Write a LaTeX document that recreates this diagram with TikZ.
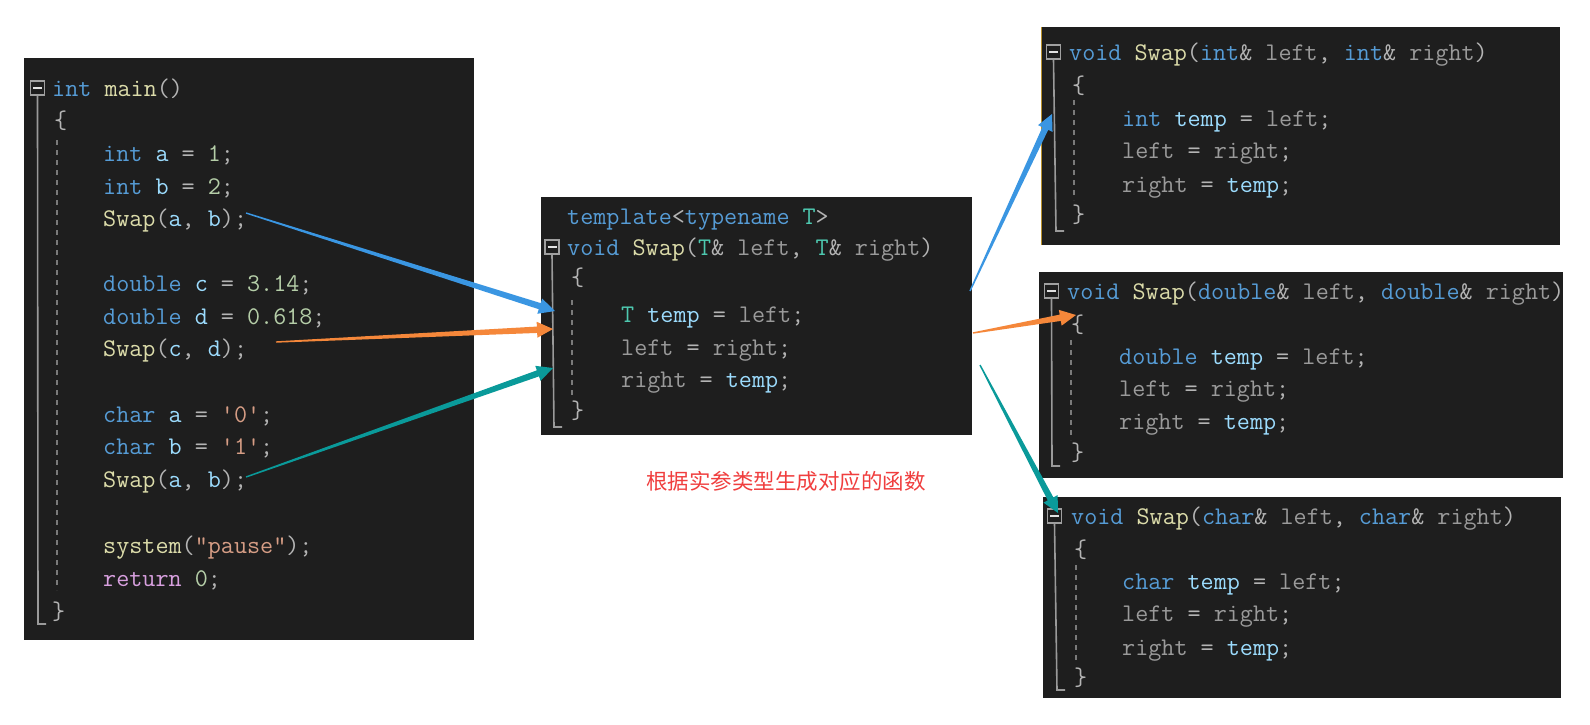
\documentclass[tikz,border=0pt]{standalone}
\usepackage{fontspec}
\newfontfamily\cjk{Noto Sans CJK SC}
\usetikzlibrary{calc}
\definecolor{bg}{HTML}{1E1E1E}
\definecolor{pun}{HTML}{B4B4B4}
\definecolor{kw}{HTML}{569CD6}
\definecolor{fn}{HTML}{DCDCAA}
\definecolor{vr}{HTML}{9CDCFE}
\definecolor{nm}{HTML}{B5CEA8}
\definecolor{st}{HTML}{D69D85}
\definecolor{rt}{HTML}{D8A0DF}
\definecolor{pr}{HTML}{9A9A9A}
\definecolor{ty}{HTML}{4EC9B0}
\definecolor{foldc}{HTML}{A0A0A0}
\definecolor{guidec}{HTML}{9A9A9A}
\definecolor{ablue}{HTML}{3A96E2}
\definecolor{aorange}{HTML}{F5873A}
\definecolor{ateal}{HTML}{0A9A9A}
\definecolor{redt}{HTML}{F03E3E}
\definecolor{gold}{HTML}{B8902A}
\newcommand\codefont{\ttfamily\fontsize{25.4}{30}\selectfont}
\newcommand\ckw[1]{\textcolor{kw}{#1}}
\newcommand\cfn[1]{\textcolor{fn}{#1}}
\newcommand\cvr[1]{\textcolor{vr}{#1}}
\newcommand\cnm[1]{\textcolor{nm}{#1}}
\newcommand\cst[1]{\textcolor{st}{#1}}
\newcommand\crt[1]{\textcolor{rt}{#1}}
\newcommand\cpr[1]{\textcolor{pr}{#1}}
\newcommand\cty[1]{\textcolor{ty}{#1}}
\tikzset{
  code/.style={anchor=base west, inner sep=0pt, text=pun, font=\codefont},
  fold/.style={draw=foldc, line width=1.6pt, minimum size=14pt, inner sep=0pt, fill=bg},
  guide/.style={draw=guidec, line width=1.6pt},
  dguide/.style={draw=guidec!80!black, line width=1.3pt, dash pattern=on 5pt off 5pt},
  panel/.style={fill=bg},
}
% code line: name, x, center y, content
\newcommand\cl[4]{\node[code] (#1) at (#2,#3+8) {#4};}
% fold box: name, x, y
\newcommand\fb[3]{\node[fold] (#1) at (#2,#3) {};
  \draw[white!88!black, line width=2.2pt] ($(#1.center)+(-4.5,0)$) -- ($(#1.center)+(4.5,0)$);}
% tapered arrow: start, end, colour
\newcommand\taper[3]{%
  \coordinate (#1#2b) at ($(#2)!16pt!(#1)$);
  \fill[#3] ($(#1)!0.7pt!90:(#2)$) -- ($(#1#2b)!3.2pt!-90:(#1)$) -- ($(#1#2b)!8pt!-90:(#1)$) -- (#2)
    -- ($(#1#2b)!8pt!90:(#1)$) -- ($(#1#2b)!3.2pt!90:(#1)$) -- ($(#1)!0.7pt!-90:(#2)$) -- cycle;}
\begin{document}
\begin{tikzpicture}[x=1pt,y=-1pt]
\useasboundingbox[fill=white] (0,0) rectangle (1590,724);
% ---------- panels ----------
\path[panel] (24,58) rectangle (474,640);
\path[panel] (541,197) rectangle (972,435);
\path[panel] (1041,27) rectangle (1560,245);
\draw[gold, line width=1.2pt] (1041.6,27) -- (1041.6,245);
\path[panel] (1039,272) rectangle (1563,478);
\path[panel] (1043,497) rectangle (1561,698);
% ---------- left panel: main ----------
\fb{fm}{37.5}{88}
\draw[guide] (fm.south) -- (38,624) -- (46,624);
\draw[dguide] (57,140) -- (57,590);
\cl{m1}{52}{88}{\ckw{int} \cfn{main}()}
\cl{m2}{54}{120}{\{}
\cl{m3}{103}{153}{\ckw{int} \cvr{a} = \cnm{1};}
\cl{m4}{103}{186}{\ckw{int} \cvr{b} = \cnm{2};}
\cl{m5}{103}{218}{\cfn{Swap}(\cvr{a}, \cvr{b});}
\cl{m7}{103}{283}{\ckw{double} \cvr{c} = \cnm{3.14};}
\cl{m8}{103}{316}{\ckw{double} \cvr{d} = \cnm{0.618};}
\cl{m9}{103}{348}{\cfn{Swap}(\cvr{c}, \cvr{d});}
\cl{m11}{103}{414}{\ckw{char} \cvr{a} = \cst{'0'};}
\cl{m12}{103}{446}{\ckw{char} \cvr{b} = \cst{'1'};}
\cl{m13}{103}{479}{\cfn{Swap}(\cvr{a}, \cvr{b});}
\cl{m15}{103}{545}{\cfn{system}(\cst{"pause"});}
\cl{m16}{103}{578}{\crt{return} \cnm{0};}
\cl{m17}{52}{611}{\}}
% ---------- middle panel: template ----------
\fb{ft}{552}{247}
\draw[guide] (ft.south) -- (554,427) -- (562,427);
\draw[dguide] (572,300) -- (572,395);
\cl{t0}{567}{216}{\ckw{template}<\ckw{typename} \cty{T}>}
\cl{t1}{567}{247}{\ckw{void} \cfn{Swap}(\cty{T}\& \cpr{left}, \cty{T}\& \cpr{right})}
\cl{t2}{571}{277}{\{}
\cl{t3}{621}{314}{\cty{T} \cvr{temp} = \cpr{left};}
\cl{t4}{621}{347}{\cpr{left} = \cpr{right};}
\cl{t5}{621}{379}{\cpr{right} = \cvr{temp};}
\cl{t6}{571}{410}{\}}
% ---------- top right: int ----------
\fb{fi}{1053.5}{52}
\draw[guide] (fi.south) -- (1056,231) -- (1064,231);
\draw[dguide] (1074,100) -- (1074,200);
\cl{i1}{1069}{52}{\ckw{void} \cfn{Swap}(\ckw{int}\& \cpr{left}, \ckw{int}\& \cpr{right})}
\cl{i2}{1072}{85}{\{}
\cl{i3}{1122}{118}{\ckw{int} \cvr{temp} = \cpr{left};}
\cl{i4}{1122}{150}{\cpr{left} = \cpr{right};}
\cl{i5}{1122}{184}{\cpr{right} = \cvr{temp};}
\cl{i6}{1072}{214}{\}}
% ---------- middle right: double ----------
\begin{scope}
\clip (1039,272) rectangle (1563,478);
\fb{fd}{1051.5}{291}
\draw[guide] (fd.south) -- (1052,466) -- (1060,466);
\draw[dguide] (1071,340) -- (1071,440);
\cl{d1}{1067}{291}{\ckw{void} \cfn{Swap}(\ckw{double}\& \cpr{left}, \ckw{double}\& \cpr{right})}
\cl{d2}{1071}{324}{\{}
\cl{d3}{1119}{356}{\ckw{double} \cvr{temp} = \cpr{left};}
\cl{d4}{1119}{388}{\cpr{left} = \cpr{right};}
\cl{d5}{1119}{421}{\cpr{right} = \cvr{temp};}
\cl{d6}{1071}{452}{\}}
\end{scope}
% ---------- bottom right: char ----------
\fb{fc}{1054.5}{516}
\draw[guide] (fc.south) -- (1057,690) -- (1065,690);
\draw[dguide] (1076,565) -- (1076,662);
\cl{c1}{1071}{516}{\ckw{void} \cfn{Swap}(\ckw{char}\& \cpr{left}, \ckw{char}\& \cpr{right})}
\cl{c2}{1074}{549}{\{}
\cl{c3}{1122}{581}{\ckw{char} \cvr{temp} = \cpr{left};}
\cl{c4}{1122}{613}{\cpr{left} = \cpr{right};}
\cl{c5}{1122}{647}{\cpr{right} = \cvr{temp};}
\cl{c6}{1074}{677}{\}}
% ---------- caption ----------
\node[font=\cjk\fontsize{21.5}{22}\selectfont, text=redt, inner sep=0pt] (note) at (786,481) {根据实参类型生成对应的函数};
% ---------- arrows ----------
\coordinate (sA) at (246,213); \coordinate (eA) at (555,311);
\coordinate (sB) at (276,342); \coordinate (eB) at (553,329);
\coordinate (sC) at (246,477); \coordinate (eC) at (553,368);
\coordinate (sD) at (970,291); \coordinate (eD) at (1052,114);
\coordinate (sE) at (973,333); \coordinate (eE) at (1076,315);
\coordinate (sF) at (980,365); \coordinate (eF) at (1058,513);
\taper{sA}{eA}{ablue}
\taper{sB}{eB}{aorange}
\taper{sC}{eC}{ateal}
\taper{sD}{eD}{ablue}
\taper{sE}{eE}{aorange}
\taper{sF}{eF}{ateal}
\end{tikzpicture}
\end{document}
